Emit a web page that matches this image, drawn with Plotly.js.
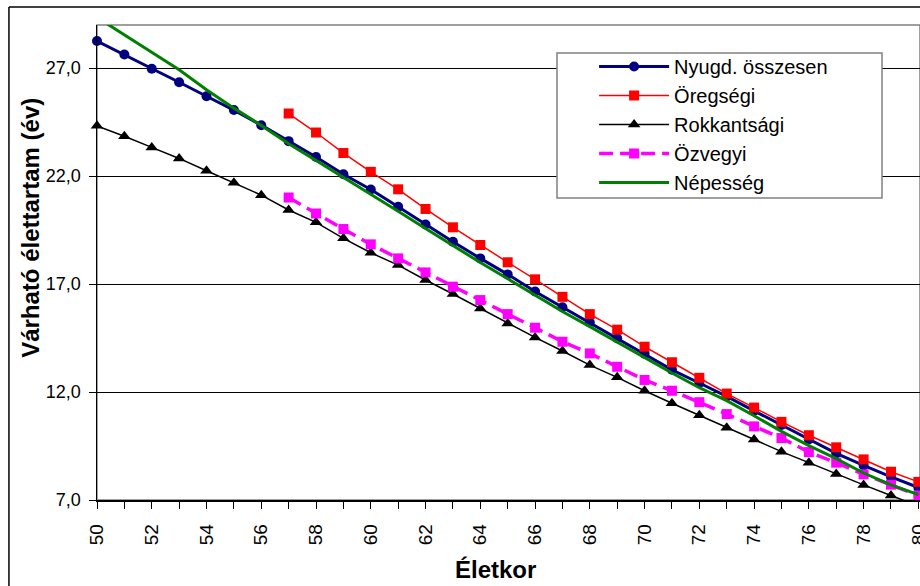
<!DOCTYPE html>
<html>
<head>
<meta charset="utf-8">
<script src="https://cdn.plot.ly/plotly-3.0.1.min.js"></script>
<style>html,body{margin:0;padding:0;background:#fff;}#chart{width:920px;height:586px;}</style>
</head>
<body>
<div id="chart"></div>
<script>
// ---- data ----
const ages = [50,51,52,53,54,55,56,57,58,59,60,61,62,63,64,65,66,67,68,69,70,71,72,73,74,75,76,77,78,79,80];

const nyugdOsszesen = [28.26,27.63,26.97,26.35,25.70,25.06,24.36,23.62,22.89,22.09,21.38,20.58,19.76,18.96,18.19,17.45,16.66,15.93,15.22,14.49,13.77,13.03,12.42,11.80,11.13,10.47,9.80,9.16,8.60,8.07,7.58];

const oregsegi = [null,null,null,null,null,null,null,24.90,24.02,23.07,22.20,21.39,20.48,19.63,18.81,18.01,17.22,16.41,15.61,14.89,14.10,13.38,12.66,11.93,11.28,10.62,10.00,9.44,8.88,8.31,7.84];

const rokkantsagi = [24.33,23.85,23.33,22.82,22.25,21.69,21.12,20.43,19.86,19.12,18.45,17.88,17.19,16.54,15.87,15.18,14.53,13.90,13.25,12.68,12.06,11.48,10.92,10.35,9.80,9.24,8.73,8.20,7.70,7.21,6.72];

const ozvegyi = [null,null,null,null,null,null,null,21.01,20.27,19.55,18.84,18.19,17.54,16.88,16.26,15.61,14.98,14.33,13.79,13.17,12.56,12.06,11.53,10.98,10.41,9.87,9.22,8.73,8.19,7.71,7.21];

const nepesseg = [29.35,28.55,27.74,26.93,26.00,25.15,24.35,23.50,22.72,21.95,21.17,20.37,19.57,18.78,18.00,17.25,16.47,15.73,15.03,14.30,13.58,12.88,12.20,11.60,10.90,10.18,9.52,8.92,8.25,7.70,7.25];

const seriesNames = ["Nyugd. összesen","Öregségi","Rokkantsági","Özvegyi","Népesség"];

const yTickVals = [7,12,17,22,27];
const yTickText = ["7,0","12,0","17,0","22,0","27,0"];
const xTickText = ages.map(a => (a % 2 === 0 ? String(a) : ""));

const xTitle = "Életkor";
const yTitle = "Várható élettartam (év)";

// ---- chart ----
const FONT = "Liberation Sans, Arial, sans-serif";

const traces = [
  {x: ages, y: nyugdOsszesen, name: seriesNames[0], type: "scatter", mode: "lines+markers",
   line: {color: "#000080", width: 3}, marker: {symbol: "circle", size: 10, color: "#000080"}, cliponaxis: false},
  {x: ages, y: oregsegi, name: seriesNames[1], type: "scatter", mode: "lines+markers",
   line: {color: "#FF0000", width: 1.5}, marker: {symbol: "square", size: 10, color: "#FF0000"}, cliponaxis: false},
  {x: ages, y: rokkantsagi, name: seriesNames[2], type: "scatter", mode: "lines+markers",
   line: {color: "#000000", width: 1.5}, marker: {symbol: "triangle-up", size: 11, color: "#000000"}, cliponaxis: false},
  {x: ages, y: ozvegyi, name: seriesNames[3], type: "scatter", mode: "lines+markers",
   line: {color: "#FF00FF", width: 3.5, dash: "14px,7px"}, marker: {symbol: "square", size: 10, color: "#FF00FF"}, cliponaxis: false},
  {x: ages, y: nepesseg, name: seriesNames[4], type: "scatter", mode: "lines",
   line: {color: "#008000", width: 3}, cliponaxis: false}
];

const layout = {
  width: 920, height: 586,
  margin: {l: 97, r: 0, t: 25, b: 86, pad: 0},
  paper_bgcolor: "#ffffff", plot_bgcolor: "#ffffff",
  font: {family: FONT, color: "#000", size: 18},
  separators: ", ",
  showlegend: true,
  xaxis: {
    range: [50, 80.06], tickmode: "array", tickvals: ages, ticktext: xTickText,
    tickangle: -90, ticks: "outside", ticklen: 7, tickcolor: "#000",
    ticklabelstandoff: 8, ticklabeloverflow: "allow",
    showgrid: false, zeroline: false, showline: true, linecolor: "#000", linewidth: 1.5,
    tickfont: {family: FONT, size: 19, color: "#000"},
    automargin: false
  },
  yaxis: {
    range: [7, 29], tickmode: "array", tickvals: yTickVals, ticktext: yTickText,
    ticks: "outside", ticklen: 7, tickcolor: "#000", ticklabelstandoff: 4,
    showgrid: true, gridcolor: "#000", gridwidth: 1, zeroline: false,
    showline: true, linecolor: "#000", linewidth: 1.5,
    tickfont: {family: FONT, size: 18, color: "#000"},
    automargin: false
  },
  annotations: [
    {text: "<b>" + xTitle + "</b>", xref: "paper", yref: "paper", x: 0.4848, y: -0.1453,
     xanchor: "center", yanchor: "middle", showarrow: false,
     font: {family: FONT, size: 24, color: "#000"}},
    {text: "<b>" + yTitle + "</b>", xref: "paper", yref: "paper", x: -0.0816, y: 0.5726,
     xanchor: "center", yanchor: "middle", textangle: -90, showarrow: false,
     font: {family: FONT, size: 24, color: "#000"}}
  ],
  legend: {
    x: 0.604, y: 0.9537, xanchor: "left", yanchor: "top",
    bgcolor: "rgba(0,0,0,0)", borderwidth: 0,
    font: {family: FONT, size: 20, color: "#000"},
    itemwidth: 70, tracegroupgap: 0
  },
  shapes: [
    {type: "rect", xref: "paper", yref: "paper", x0: 0, x1: 1, y0: 0, y1: 1,
     line: {color: "#808080", width: 1.5}, layer: "below"},
    // legend box
    {type: "rect", xref: "paper", yref: "paper",
     x0: (557 - 97) / 823, x1: (882 - 97) / 823, y0: 1 - (198 - 25) / 475, y1: 1 - (53 - 25) / 475,
     fillcolor: "#ffffff", line: {color: "#808080", width: 1.5}, layer: "above"},
    // outer chart border (top and left visible)
    {type: "line", xref: "paper", yref: "paper", x0: -0.107, x1: 1.05, y0: 1.0379, y1: 1.0379,
     line: {color: "#000", width: 1.5}},
    {type: "line", xref: "paper", yref: "paper", x0: -0.107, x1: -0.107, y0: 1.0379, y1: -0.25,
     line: {color: "#000", width: 1.5}}
  ]
};

Plotly.newPlot("chart", traces, layout, {displayModeBar: false, staticPlot: true});
</script>
</body>
</html>
